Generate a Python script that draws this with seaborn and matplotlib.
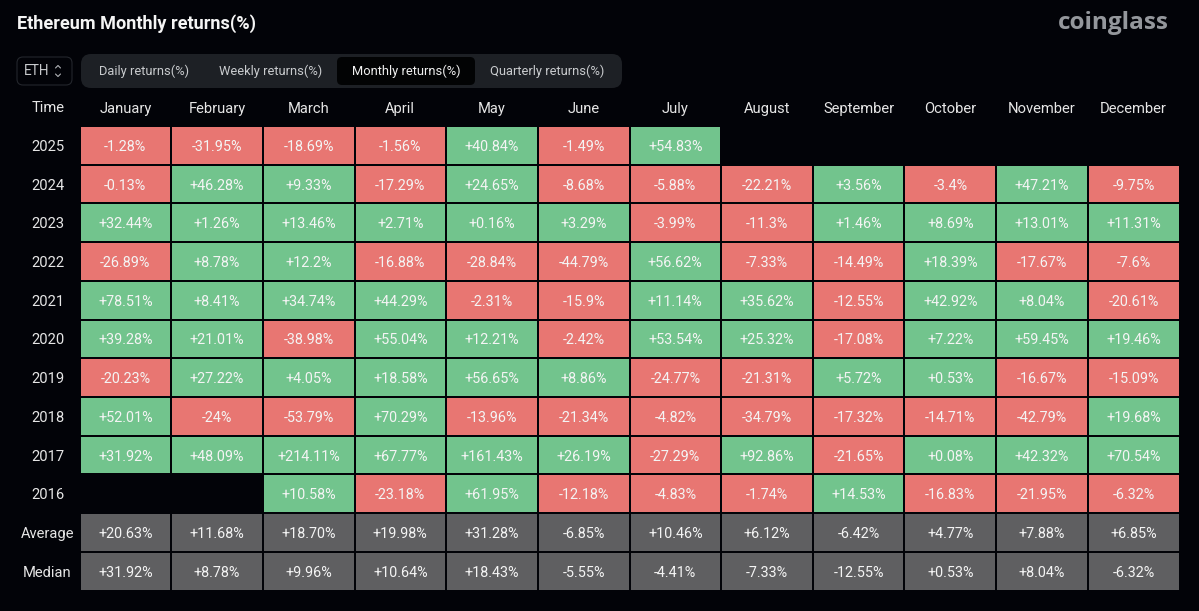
import matplotlib.pyplot as plt
from matplotlib.colors import ListedColormap
from matplotlib.patches import FancyBboxPatch
import numpy as np
import seaborn as sns

months = ["January", "February", "March", "April", "May", "June", "July",
          "August", "September", "October", "November", "December"]
rows = ["2025", "2024", "2023", "2022", "2021", "2020", "2019", "2018", "2017", "2016", "Average", "Median"]

r2025 = ["-1.28%", "-31.95%", "-18.69%", "-1.56%", "+40.84%", "-1.49%", "+54.83%", "", "", "", "", ""]
r2024 = ["-0.13%", "+46.28%", "+9.33%", "-17.29%", "+24.65%", "-8.68%", "-5.88%", "-22.21%", "+3.56%", "-3.4%", "+47.21%", "-9.75%"]
r2023 = ["+32.44%", "+1.26%", "+13.46%", "+2.71%", "+0.16%", "+3.29%", "-3.99%", "-11.3%", "+1.46%", "+8.69%", "+13.01%", "+11.31%"]
r2022 = ["-26.89%", "+8.78%", "+12.2%", "-16.88%", "-28.84%", "-44.79%", "+56.62%", "-7.33%", "-14.49%", "+18.39%", "-17.67%", "-7.6%"]
r2021 = ["+78.51%", "+8.41%", "+34.74%", "+44.29%", "-2.31%", "-15.9%", "+11.14%", "+35.62%", "-12.55%", "+42.92%", "+8.04%", "-20.61%"]
r2020 = ["+39.28%", "+21.01%", "-38.98%", "+55.04%", "+12.21%", "-2.42%", "+53.54%", "+25.32%", "-17.08%", "+7.22%", "+59.45%", "+19.46%"]
r2019 = ["-20.23%", "+27.22%", "+4.05%", "+18.58%", "+56.65%", "+8.86%", "-24.77%", "-21.31%", "+5.72%", "+0.53%", "-16.67%", "-15.09%"]
r2018 = ["+52.01%", "-24%", "-53.79%", "+70.29%", "-13.96%", "-21.34%", "-4.82%", "-34.79%", "-17.32%", "-14.71%", "-42.79%", "+19.68%"]
r2017 = ["+31.92%", "+48.09%", "+214.11%", "+67.77%", "+161.43%", "+26.19%", "-27.29%", "+92.86%", "-21.65%", "+0.08%", "+42.32%", "+70.54%"]
r2016 = ["", "", "+10.58%", "-23.18%", "+61.95%", "-12.18%", "-4.83%", "-1.74%", "+14.53%", "-16.83%", "-21.95%", "-6.32%"]
average = ["+20.63%", "+11.68%", "+18.70%", "+19.98%", "+31.28%", "-6.85%", "+10.46%", "+6.12%", "-6.42%", "+4.77%", "+7.88%", "+6.85%"]
median = ["+31.92%", "+8.78%", "+9.96%", "+10.64%", "+18.43%", "-5.55%", "-4.41%", "-7.33%", "-12.55%", "+0.53%", "+8.04%", "-6.32%"]

tabs = ["Daily returns(%)", "Weekly returns(%)", "Monthly returns(%)", "Quarterly returns(%)"]

BG = "#020308"
labels = np.array([r2025, r2024, r2023, r2022, r2021, r2020, r2019, r2018, r2017, r2016, average, median])

# 0 = loss, 1 = gain, 2 = summary rows, nan = no data
kind = np.full(labels.shape, np.nan)
for i, row in enumerate(labels):
    for j, s in enumerate(row):
        if s:
            kind[i, j] = 2 if i >= 10 else (1 if s[0] == "+" else 0)

sns.set_theme(style="white")
plt.rcParams["font.family"] = ["Roboto", "DejaVu Sans"]

W, H = 1199, 611
fig = plt.figure(figsize=(W / 100, H / 100), dpi=100, facecolor=BG)
ax = fig.add_axes([79.5 / W, 1 - 590.5 / H, 1100 / W, 464.5 / H], facecolor=BG)

cmap = ListedColormap(["#E87672", "#72C48D", "#5F5F61"])
sns.heatmap(kind, ax=ax, cmap=cmap, vmin=0, vmax=2, cbar=False,
            annot=labels, fmt="", annot_kws={"fontsize": 10.4, "color": "#F4F4F4", "va": "center_baseline"},
            linewidths=1.1, linecolor=BG, xticklabels=months, yticklabels=rows)

ax.xaxis.tick_top()
ax.tick_params(axis="x", length=0, pad=7, labelsize=10.6, labelcolor="#E6E6E6", rotation=0)
# centred labels hang off the tick, so the pad sets their centre at x=48
ax.tick_params(axis="y", length=0, pad=23, labelsize=10.6, labelcolor="#E6E6E6", rotation=0)
for t in ax.get_yticklabels():
    t.set_ha("center")
    t.set_va("center_baseline")

# page furniture, in pixel coordinates
over = fig.add_axes([0, 0, 1, 1], facecolor="none")
over.set_xlim(0, W)
over.set_ylim(H, 0)
over.axis("off")


def box(x0, y0, x1, y1, face, edge="none", rad=8):
    over.add_patch(FancyBboxPatch((x0 + rad, y0 + rad), x1 - x0 - 2 * rad, y1 - y0 - 2 * rad,
                                  boxstyle=f"round,pad={rad},rounding_size={rad}",
                                  fc=face, ec=edge, lw=0.8))


over.text(17, 24, "Ethereum Monthly returns(%)", color="#F5F5F5", fontsize=13.1,
          fontweight="bold", va="center", ha="left")
over.text(1113, 23, "coinglass", color="#94979C", fontsize=17.5, fontweight="bold",
          family="Open Sans", va="center", ha="center")

box(17, 57, 72, 85, BG, edge="#23262C", rad=6)
over.text(36.5, 71, "ETH", color="#C8CACD", fontsize=9.8, va="center", ha="center")
over.plot([55.5, 58, 60.5], [68, 65.5, 68], color="#B0B2B6", lw=0.8)
over.plot([55.5, 58, 60.5], [74, 76.5, 74], color="#B0B2B6", lw=0.8)

box(81, 54, 622, 88, "#1D2025", rad=10)
box(337, 57, 475, 85, "#020304", rad=5)
for name, cx in zip(tabs, [144, 271, 406, 547]):
    color = "#F0F0F0" if name.startswith("Monthly") else "#C9CBCE"
    over.text(cx, 71, name, color=color, fontsize=9.3, va="center", ha="center")

over.text(48, 108, "Time", color="#E6E6E6", fontsize=10.6, va="center", ha="center")

fig.savefig("out.png", dpi=100, facecolor=BG)
